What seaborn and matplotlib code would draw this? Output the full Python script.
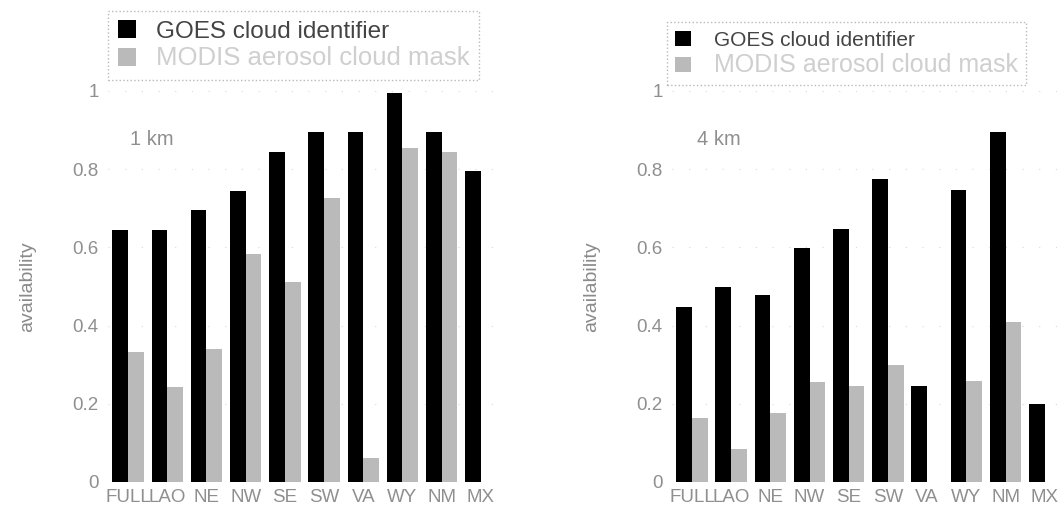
import numpy as np
import pandas as pd
import matplotlib
matplotlib.use('Agg')
import matplotlib.pyplot as plt
import seaborn as sns

# regions and availability values
regions = ['FULL', 'LAO', 'NE', 'NW', 'SE', 'SW', 'VA', 'WY', 'NM', 'MX']
goes_1km = [0.645, 0.645, 0.695, 0.745, 0.845, 0.895, 0.895, 0.995, 0.895, 0.795]
modis_1km = [0.332, 0.243, 0.34, 0.583, 0.512, 0.726, 0.061, 0.854, 0.844, np.nan]
goes_4km = [0.447, 0.498, 0.478, 0.598, 0.647, 0.775, 0.245, 0.747, 0.896, 0.2]
modis_4km = [0.163, 0.084, 0.176, 0.256, 0.246, 0.299, np.nan, 0.258, 0.41, np.nan]
sources = ['GOES cloud identifier', 'MODIS aerosol cloud mask']
yticks = [0, 0.2, 0.4, 0.6, 0.8, 1]
ytick_labels = ['0', '0.2', '0.4', '0.6', '0.8', '1']

sns.set_style('white')
plt.rcParams['font.family'] = ['Liberation Sans', 'DejaVu Sans']

fig = plt.figure(figsize=(10.63, 5.08), dpi=100)
ax1 = fig.add_axes([0.102, 0.0512, 0.3688, 0.7697])
ax2 = fig.add_axes([0.6325, 0.0512, 0.3688, 0.7697])

# axis, goes, modis, panel label, label x, legend sizes, text pad, legend anchor
panels = [
    (ax1, goes_1km, modis_1km, '1 km', 0.05, (17.5, 18.5), 0.8, (0.0, 1.028)),
    (ax2, goes_4km, modis_4km, '4 km', 0.13, (15.0, 18.0), 1.1, (-0.014, 1.015)),
]

for ax, goes, modis, label, tx, legsize, tpad, anchor in panels:
    df = pd.DataFrame({
        'region': regions * 2,
        'availability': goes + modis,
        'source': [sources[0]] * len(regions) + [sources[1]] * len(regions),
    })
    sns.barplot(data=df, x='region', y='availability', hue='source',
                palette=['black', '#bababa'], saturation=1, width=0.8,
                ax=ax, errorbar=None, linewidth=0)
    ax.set_ylim(0, 1)
    ax.set_xlim(-0.5, len(regions) - 0.5)
    ax.set_yticks(yticks)
    ax.set_yticklabels(ytick_labels)
    ax.set_xlabel('')
    ax.set_ylabel('availability', fontsize=14, color='#8a8a8a', labelpad=26)
    ax.tick_params(axis='both', length=0, labelsize=13.5, labelcolor='#8f8f8f')
    ax.tick_params(axis='y', pad=7)
    ax.tick_params(axis='x', pad=5)
    for s in ax.spines.values():
        s.set_visible(False)
    ax.yaxis.grid(True, color='#d8d8d8', linestyle=(0, (1, 14)), linewidth=0.8)
    ax.set_axisbelow(True)
    ax.text(tx, 0.875, label, fontsize=14.5, color='#8f8f8f', va='center', ha='left')

    leg = ax.legend(loc='lower left', bbox_to_anchor=anchor, fontsize=legsize[0],
                    frameon=True, handlelength=0.75, handleheight=0.75,
                    handletextpad=tpad, borderpad=0.4, labelspacing=0.15,
                    borderaxespad=0, fancybox=False)
    leg.get_frame().set_edgecolor('#a8a8a8')
    leg.get_frame().set_linestyle(':')
    leg.get_frame().set_linewidth(1.0)
    texts = leg.get_texts()
    texts[0].set_color('#444444')
    texts[1].set_color('#cfcfcf')
    texts[1].set_fontsize(legsize[1])

fig.savefig('out.png', dpi=100)
